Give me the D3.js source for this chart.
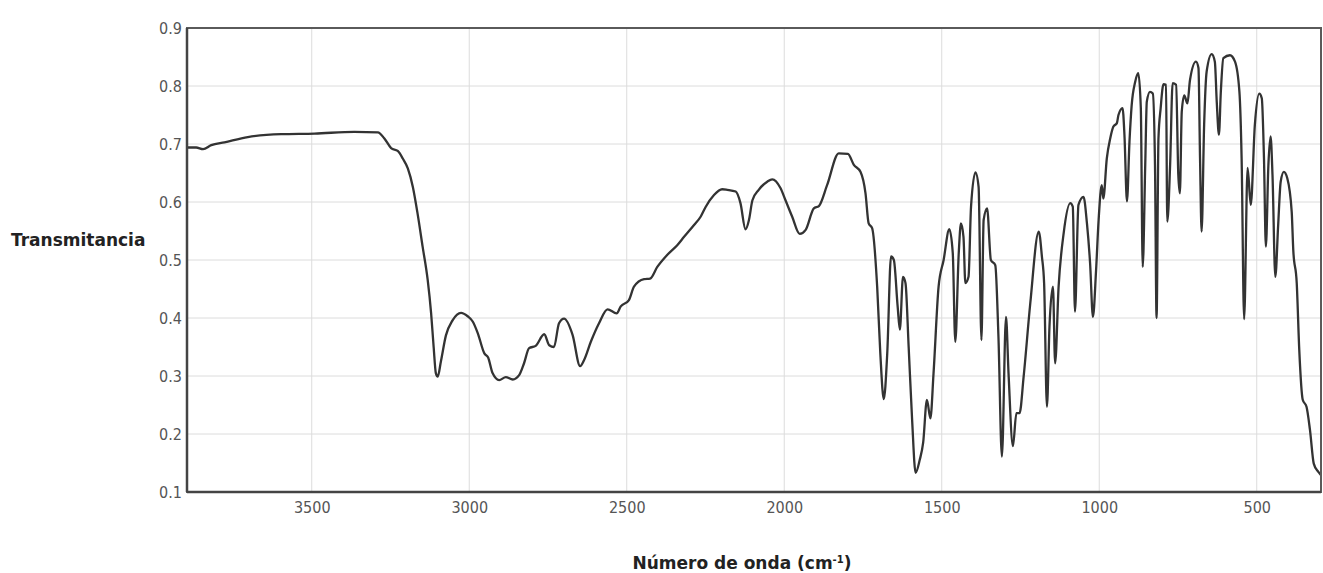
<!DOCTYPE html>
<html>
<head>
<meta charset="utf-8">
<script src="https://cdn.jsdelivr.net/npm/d3@7/dist/d3.min.js"></script>
<style>
  html, body { margin: 0; padding: 0; background: #fff; }
  svg { display: block; }
</style>
</head>
<body>
<svg id="chart" width="1323" height="573"></svg>
<script>
// IR spectrum: wavenumber (cm-1) and transmittance
const wavenumber = [
  3896, 3867, 3845, 3819, 3777, 3703, 3597, 3491, 3365, 3290,
  3270, 3248, 3227, 3211, 3195, 3179, 3164, 3148, 3132, 3121,
  3113, 3106, 3100, 3090, 3074, 3053, 3026, 3005, 2989, 2973,
  2952, 2940, 2926, 2905, 2884, 2862, 2841, 2826, 2810, 2789,
  2762, 2746, 2731, 2715, 2699, 2672, 2648, 2635, 2614, 2588,
  2561, 2532, 2519, 2493, 2477, 2445, 2426, 2403, 2371, 2339,
  2318, 2287, 2265, 2250, 2223, 2197, 2181, 2154, 2139, 2123,
  2112, 2101, 2081, 2054, 2038, 2012, 1996, 1975, 1951, 1932,
  1906, 1890, 1864, 1827, 1798, 1779, 1758, 1742, 1732, 1721,
  1705, 1695, 1684, 1673, 1661, 1652, 1640, 1633, 1623, 1615,
  1605, 1594, 1583, 1570, 1559, 1547, 1536, 1526, 1510, 1494,
  1476, 1465, 1457, 1446, 1439, 1431, 1425, 1415, 1407, 1393,
  1383, 1374, 1367, 1356, 1344, 1330, 1320, 1309, 1296, 1288,
  1274, 1263, 1253, 1240, 1219, 1192, 1182, 1175, 1166, 1158,
  1147, 1140, 1129, 1113, 1092, 1084, 1077, 1066, 1050, 1039,
  1029, 1020, 1010, 1002, 992, 987, 976, 965, 955, 944,
  939, 926, 920, 912, 904, 897, 886, 876, 868, 862,
  854, 849, 839, 830, 823, 818, 812, 805, 796, 788,
  784, 775, 767, 756, 749, 744, 738, 730, 720, 712,
  693, 685, 680, 675, 667, 659, 643, 633, 627, 620,
  614, 606, 585, 569, 555, 548, 540, 529, 519, 506,
  492, 484, 477, 471, 463, 456, 450, 441, 432, 424,
  414, 403, 389, 384, 373, 365, 354, 342, 331, 319,
  305, 296
];
const transmittance = [
  0.694, 0.694, 0.691, 0.698, 0.703, 0.712, 0.717, 0.718, 0.721, 0.720,
  0.710, 0.693, 0.688, 0.675, 0.658, 0.626, 0.580, 0.523, 0.466, 0.408,
  0.350, 0.305, 0.299, 0.325, 0.370, 0.396, 0.409, 0.403, 0.394, 0.374,
  0.339, 0.332, 0.305, 0.293, 0.298, 0.294, 0.302, 0.322, 0.348, 0.352,
  0.372, 0.353, 0.350, 0.391, 0.399, 0.371, 0.317, 0.328, 0.359, 0.391,
  0.415, 0.408, 0.420, 0.431, 0.454, 0.467, 0.468, 0.488, 0.509, 0.526,
  0.540, 0.560, 0.575, 0.591, 0.612, 0.622, 0.621, 0.618, 0.598, 0.553,
  0.569, 0.603, 0.621, 0.635, 0.639, 0.624, 0.603, 0.575, 0.545, 0.552,
  0.589, 0.593, 0.629, 0.684, 0.683, 0.664, 0.652, 0.615, 0.563, 0.555,
  0.454, 0.339, 0.260, 0.339, 0.506, 0.500, 0.420, 0.380, 0.471, 0.460,
  0.350, 0.224, 0.133, 0.155, 0.185, 0.259, 0.227, 0.305, 0.454, 0.500,
  0.553, 0.512, 0.359, 0.512, 0.563, 0.540, 0.460, 0.471, 0.592, 0.651,
  0.626, 0.362, 0.569, 0.589, 0.500, 0.491, 0.368, 0.161, 0.402, 0.305,
  0.179, 0.236, 0.236, 0.299, 0.425, 0.549, 0.506, 0.460, 0.247, 0.385,
  0.454, 0.322, 0.454, 0.546, 0.598, 0.592, 0.411, 0.595, 0.609, 0.563,
  0.494, 0.402, 0.483, 0.569, 0.629, 0.606, 0.675, 0.710, 0.730, 0.736,
  0.750, 0.762, 0.716, 0.601, 0.704, 0.767, 0.807, 0.822, 0.762, 0.488,
  0.664, 0.773, 0.790, 0.787, 0.664, 0.400, 0.710, 0.762, 0.803, 0.802,
  0.566, 0.664, 0.805, 0.802, 0.647, 0.615, 0.756, 0.784, 0.770, 0.810,
  0.842, 0.831, 0.675, 0.549, 0.733, 0.825, 0.855, 0.842, 0.773, 0.716,
  0.790, 0.848, 0.853, 0.842, 0.790, 0.675, 0.398, 0.659, 0.595, 0.733,
  0.787, 0.779, 0.675, 0.523, 0.664, 0.713, 0.647, 0.471, 0.560, 0.635,
  0.652, 0.641, 0.583, 0.517, 0.460, 0.345, 0.259, 0.247, 0.207, 0.149,
  0.135, 0.129
];
const xTicks = [3500, 3000, 2500, 2000, 1500, 1000, 500];
const yTicks = [0.1, 0.2, 0.3, 0.4, 0.5, 0.6, 0.7, 0.8, 0.9];

const margin = { top: 28, right: 2, bottom: 81, left: 187 };
const width = 1323, height = 573;
const svg = d3.select("#chart");

const x = d3.scaleLinear().domain([3896, 296]).range([margin.left, width - margin.right]);
const y = d3.scaleLinear().domain([0.1, 0.9]).range([height - margin.bottom, margin.top]);

const tickFont = "'Liberation Sans Narrow', 'Arial Narrow', 'DejaVu Sans Condensed', sans-serif";

// grid
const grid = svg.append("g");
grid.selectAll("line.v").data(xTicks).join("line")
  .attr("x1", d => x(d)).attr("x2", d => x(d))
  .attr("y1", y(0.9)).attr("y2", y(0.1))
  .attr("stroke", "#dcdcdc").attr("stroke-width", 1);
grid.selectAll("line.h").data(yTicks.slice(1, -1)).join("line")
  .attr("x1", x.range()[0]).attr("x2", x.range()[1])
  .attr("y1", d => y(d)).attr("y2", d => y(d))
  .attr("stroke", "#dcdcdc").attr("stroke-width", 1);

// axes
const xAxis = d3.axisBottom(x).tickValues(xTicks).tickSize(0).tickPadding(10).tickFormat(d3.format("d"));
const yAxis = d3.axisLeft(y).tickValues(yTicks).tickSize(0).tickPadding(5).tickFormat(d3.format(".1f"));

const gx = svg.append("g").attr("transform", `translate(0,${y(0.1)})`).call(xAxis);
const gy = svg.append("g").attr("transform", `translate(${x.range()[0]},0)`).call(yAxis);
[gx, gy].forEach(g => {
  g.select(".domain").remove();
  g.selectAll("text").attr("fill", "#555").style("font-family", tickFont).style("font-size", "16px");
});

// spectrum
const points = wavenumber.map((w, i) => [w, transmittance[i]]);
const line = d3.line().x(d => x(d[0])).y(d => y(d[1])).curve(d3.curveMonotoneX);
svg.append("path").datum(points)
  .attr("d", line)
  .attr("fill", "none")
  .attr("stroke", "#333")
  .attr("stroke-width", 2.3)
  .attr("stroke-linejoin", "round");

// frame
svg.append("rect")
  .attr("x", x.range()[0]).attr("y", y(0.9))
  .attr("width", x.range()[1] - x.range()[0]).attr("height", y(0.1) - y(0.9))
  .attr("fill", "none").attr("stroke", "#5a5a5a").attr("stroke-width", 2);
svg.append("line")
  .attr("x1", x.range()[0]).attr("x2", x.range()[1])
  .attr("y1", y(0.1)).attr("y2", y(0.1))
  .attr("stroke", "#444").attr("stroke-width", 2.5);
svg.append("line")
  .attr("x1", x.range()[0]).attr("x2", x.range()[0])
  .attr("y1", y(0.9)).attr("y2", y(0.1))
  .attr("stroke", "#444").attr("stroke-width", 2.5);

// axis titles
const titleFont = "'DejaVu Sans', Verdana, sans-serif";
svg.append("text")
  .attr("x", 11).attr("y", 246)
  .attr("fill", "#222")
  .style("font-family", titleFont).style("font-weight", "bold").style("font-size", "17px")
  .text("Transmitancia");

const xt = svg.append("text")
  .attr("x", 742).attr("y", 569)
  .attr("text-anchor", "middle")
  .attr("fill", "#222")
  .style("font-family", titleFont).style("font-weight", "bold").style("font-size", "17px");
xt.append("tspan").text("Número de onda (cm");
xt.append("tspan").attr("dy", -6).style("font-size", "10px").text("-1");
xt.append("tspan").attr("dy", 6).text(")");
</script>
</body>
</html>
